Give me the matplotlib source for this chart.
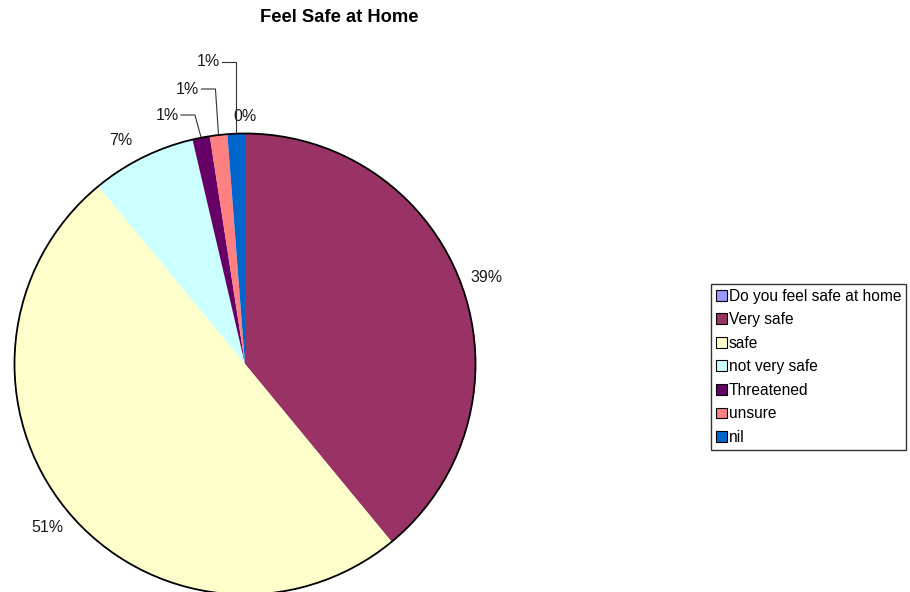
import matplotlib
matplotlib.use("Agg")
import matplotlib.pyplot as plt
from matplotlib.patches import Patch, Circle
import numpy as np

plt.rcParams['font.family'] = ['Liberation Sans', 'DejaVu Sans']

categories = ["Do you feel safe at home", "Very safe", "safe", "not very safe",
              "Threatened", "unsure", "nil"]
counts = [0, 32, 41, 6, 1, 1, 1]
pct_labels = ["0%", "39%", "51%", "7%", "1%", "1%", "1%"]
colors = ["#9999FF", "#993366", "#FFFFCC", "#CCFFFF", "#660066", "#FF8080", "#0066CC"]
title = "Feel Safe at Home"

W, H = 910, 592
fig = plt.figure(figsize=(W / 100, H / 100), dpi=100)
ax = fig.add_axes([0, 0, 1, 1])

cx, cy, R = 245, H - 364, 230.5
wedges, _ = ax.pie(counts, colors=colors, startangle=90, counterclock=False,
                   center=(cx, cy), radius=R, frame=True,
                   wedgeprops=dict(linewidth=0, edgecolor='none'))
ax.set_xlim(0, W)
ax.set_ylim(0, H)
ax.set_aspect('equal')
ax.axis('off')
ax.add_patch(Circle((cx, cy), R, fill=False, edgecolor='black', linewidth=1.3))

fs = 11.5
tcol = '#1a1a1a'

# big slice labels (radial placement, small nudge for the 7% label)
nudge = {1: (0, 0), 2: (0, 0), 3: (-10, -6)}
for i in [1, 2, 3]:
    w = wedges[i]
    mid = np.deg2rad((w.theta1 + w.theta2) / 2)
    rr = R + 26
    ax.text(cx + rr * np.cos(mid) + nudge[i][0], cy + rr * np.sin(mid) + nudge[i][1],
            pct_labels[i], ha='center', va='center', fontsize=fs, color=tcol)

# zero slice label
w = wedges[0]
mid = np.deg2rad(w.theta1)
ax.text(cx + (R + 17) * np.cos(mid), cy + (R + 17) * np.sin(mid), pct_labels[0],
        ha='center', va='center', fontsize=fs, color=tcol)

# small slices with leader lines
text_y = {6: H - 62, 5: H - 89, 4: H - 115}
for i in [4, 5, 6]:
    w = wedges[i]
    mid = np.deg2rad((w.theta1 + w.theta2) / 2)
    ex, ey = cx + (R + 1) * np.cos(mid), cy + (R + 1) * np.sin(mid)
    ty = text_y[i]
    vx = ex - 3 * (6 - i)
    hx = vx - 14
    ax.plot([ex, vx, hx], [ey, ty, ty], color='#333333', linewidth=0.8)
    ax.text(hx - 2, ty, pct_labels[i], ha='right', va='center', fontsize=fs, color=tcol)

ax.text(339, H - 18, title, ha='center', va='center', fontsize=13.2, fontweight='bold')

handles = [Patch(facecolor=c, edgecolor='black', linewidth=0.8) for c in colors]
leg = fig.legend(handles, categories, loc='upper left',
                 bbox_to_anchor=(711 / W, 1 - 284 / H), fontsize=11.2,
                 frameon=True, fancybox=False, edgecolor='black',
                 handlelength=0.7, handleheight=0.7, handletextpad=0.15,
                 labelspacing=0.55, borderpad=0.3, borderaxespad=0)
leg.get_frame().set_linewidth(1.0)

fig.savefig("out.png", dpi=100)
